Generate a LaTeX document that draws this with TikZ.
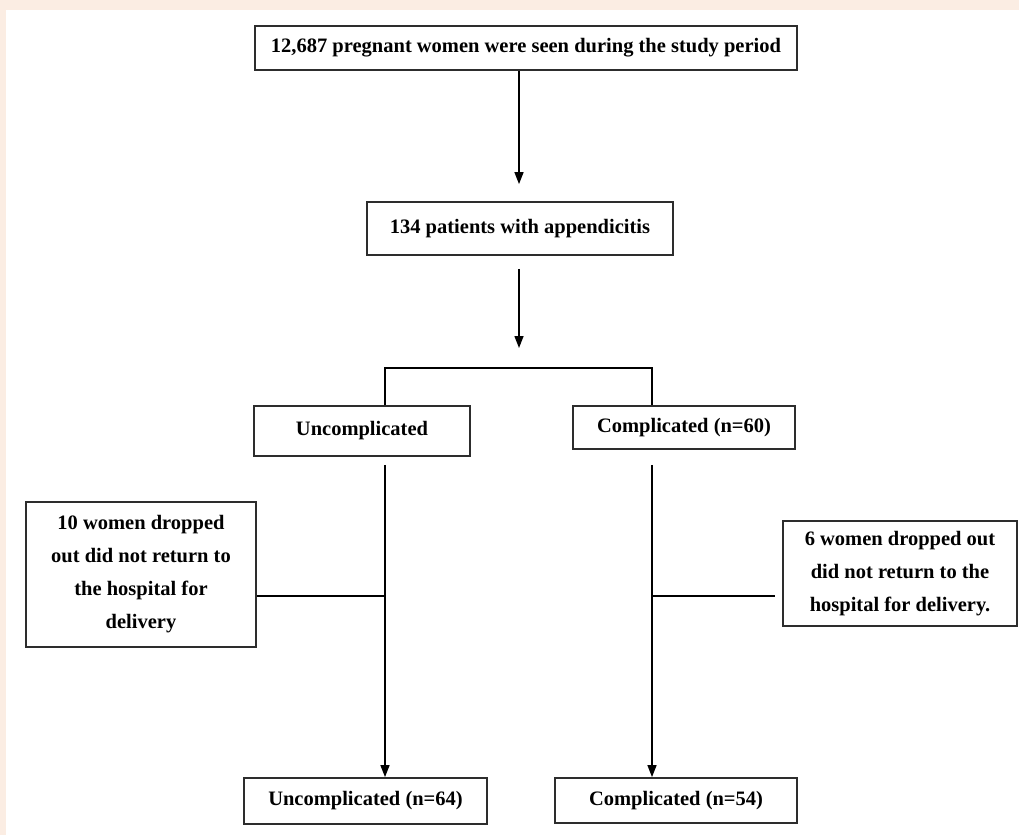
\documentclass[tikz,border=0pt]{standalone}
\usepackage{fontspec}
\setmainfont{Liberation Serif}
\usetikzlibrary{arrows.meta}
\definecolor{beige}{RGB}{251,237,227}
\definecolor{boxline}{RGB}{45,45,45}
\tikzset{
  box/.style={draw=boxline, line width=1.8pt, fill=white, inner sep=0pt, align=center,
    font=\fontsize{20.5}{33}\selectfont\bfseries},
  conn/.style={line width=1.4pt, draw=black},
  arr/.style={conn, -{Triangle[length=12pt,width=9pt]}}
}
\begin{document}
\begin{tikzpicture}[x=1pt,y=-1pt]
\useasboundingbox (0,0) rectangle (1019,835);
\fill[beige] (0,0) rectangle (1019,835);
\fill[white] (6,9.5) rectangle (1019,835);

\node[box, minimum width=542pt, minimum height=44pt] (top) at (526,48) {12,687 pregnant women were seen during the study period};
\node[box, minimum width=306pt, minimum height=53pt] (p134) at (520,228.5) {134 patients with appendicitis};
\node[box, minimum width=216pt, minimum height=50pt] (unc) at (362,431) {Uncomplicated};
\node[box, minimum width=222pt, minimum height=43pt] (comp) at (684,427.5) {Complicated (n=60)};
\node[box, minimum width=230pt, minimum height=145pt] (drop1) at (141,574.5) {10 women dropped\\out did not return to\\the hospital for\\delivery};
\node[box, minimum width=234pt, minimum height=105pt] (drop2) at (900,573.5) {6 women dropped out\\did not return to the\\hospital for delivery.};
\node[box, minimum width=243pt, minimum height=46pt] (unc64) at (365.5,801) {Uncomplicated (n=64)};
\node[box, minimum width=242pt, minimum height=45pt] (comp54) at (676,800.5) {Complicated (n=54)};

\coordinate (split) at (519,368);
\coordinate (bl) at (385,368);
\coordinate (br) at (652,368);
\coordinate (j1) at (385,596);
\coordinate (j2) at (652,596);

\draw[arr] (top.south -| split) -- ([yshift=17pt]p134.north -| split);
\draw[arr] ([yshift=-13pt]p134.south -| split) -- ([yshift=20pt]split);
\draw[conn] (bl |- unc.north) -- (bl) -- (br) -- (br |- comp.north);
\draw[arr] ([yshift=-8pt]bl |- unc.south) -- (bl |- unc64.north);
\draw[arr] ([yshift=-15pt]br |- comp.south) -- (br |- comp54.north);
\draw[conn] (j1 -| drop1.east) -- (j1);
\draw[conn] (j2) -- ([xshift=-7pt]j2 -| drop2.west);
\end{tikzpicture}
\end{document}
